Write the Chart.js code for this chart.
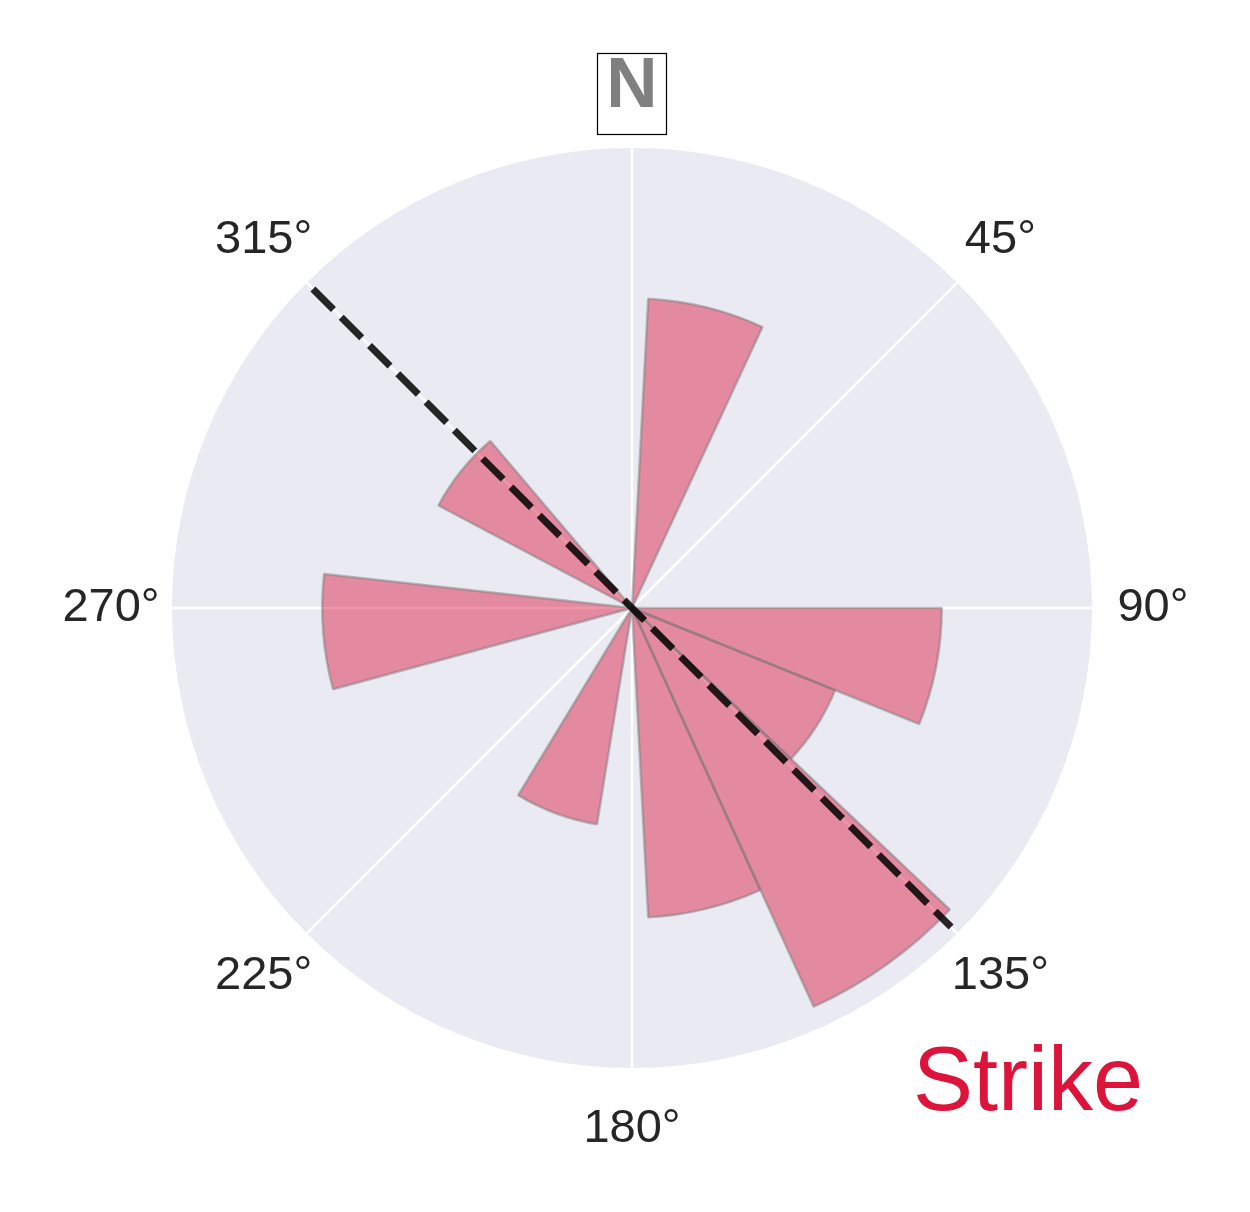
<!DOCTYPE html>
<html>
<head>
<meta charset="utf-8">
<title>Strike rose</title>
<script src="https://cdn.jsdelivr.net/npm/chart.js@4.4.0/dist/chart.umd.min.js"></script>
<style>
  body { margin: 0; background: #fff; }
  #wrap { width: 1250px; height: 1212px; }
</style>
</head>
<body>
<div id="wrap"><canvas id="roseChart" width="1250" height="1212"></canvas></div>
<script>
// bins, degrees clockwise from north
const binStart = [3.0, 90.0, 112.0, 133.5, 155.5, 189.2, 254.8, 297.9];
const binEnd   = [24.9, 112.0, 133.5, 155.5, 177.0, 211.3, 276.3, 319.7];
const binCount = [2, 2, 1, 4, 2, 1, 2, 1];

const angleLabels = ['N', '45°', '90°', '135°', '180°', '225°', '270°', '315°'];
const meanStrike = 135;   // dashed line bearing
const strikeReach = 2.06; // length of dashed line, in r units
const rMax = 2.1;

// turn bins into consecutive polar segments (empty gaps between them)
const segValues = [];
const segAngles = [];
let pos = 0;
for (let i = 0; i < binStart.length; i++) {
    if (binStart[i] > pos) {
        segValues.push(0);
        segAngles.push(binStart[i] - pos);
    }
    segValues.push(Math.sqrt(binCount[i])); // equal-area rose
    segAngles.push(binEnd[i] - binStart[i]);
    pos = binEnd[i];
}
if (pos < 360) {
    segValues.push(0);
    segAngles.push(360 - pos);
}

function pointAt(scale, bearing, dist) {
    const a = (bearing - 90) * Math.PI / 180;
    return { x: scale.xCenter + Math.cos(a) * dist, y: scale.yCenter + Math.sin(a) * dist };
}

const roseExtras = {
    id: 'roseExtras',
    afterDatasetsDraw(chart) {
        const ctx = chart.ctx;
        const r = chart.scales.r;

        // mean strike line
        const reach = r.getDistanceFromCenterForValue(strikeReach);
        const a = pointAt(r, meanStrike + 180, reach);
        const b = pointAt(r, meanStrike, reach);
        ctx.save();
        ctx.strokeStyle = 'rgba(0,0,0,0.85)';
        ctx.lineWidth = 7;
        ctx.setLineDash([29, 11]);
        ctx.beginPath();
        ctx.moveTo(a.x, a.y);
        ctx.lineTo(b.x, b.y);
        ctx.stroke();
        ctx.restore();

        // direction labels
        ctx.save();
        ctx.textAlign = 'center';
        ctx.textBaseline = 'middle';
        const labelDist = r.drawingArea + 61;
        angleLabels.forEach((txt, i) => {
            const p = pointAt(r, i * 360 / angleLabels.length, labelDist);
            if (i === 0) {
                ctx.fillStyle = '#fff';
                ctx.fillRect(p.x - 34.5, p.y - 33.5, 69, 81);
                ctx.strokeStyle = '#000';
                ctx.lineWidth = 1.2;
                ctx.strokeRect(p.x - 34.5, p.y - 33.5, 69, 81);
                ctx.font = 'bold 71px "Liberation Sans", Arial, sans-serif';
                ctx.fillStyle = '#808080';
            } else {
                ctx.font = '47px "Liberation Sans", Arial, sans-serif';
                ctx.fillStyle = '#262626';
            }
            ctx.fillText(txt, p.x, p.y);
        });

        ctx.font = '90px "Liberation Sans", Arial, sans-serif';
        ctx.fillStyle = '#DC143C';
        ctx.textAlign = 'left';
        ctx.textBaseline = 'alphabetic';
        ctx.fillText('Strike', 913, 1110);
        ctx.restore();
    }
};

const ctx = document.getElementById('roseChart').getContext('2d');
new Chart(ctx, {
    type: 'polarArea',
    data: {
        labels: segValues.map(() => ''),
        datasets: [{
            data: segValues,
            angle: c => segAngles[c.dataIndex],
            backgroundColor: segValues.map(v => v > 0 ? 'rgba(220,20,60,0.45)' : 'rgba(0,0,0,0)'),
            borderColor: 'rgba(125,125,125,0.5)',
            borderWidth: segValues.map(v => v > 0 ? 2.5 : 0)
        }]
    },
    options: {
        responsive: false,
        animation: false,
        devicePixelRatio: 1,
        layout: { padding: { left: 172, right: 158, top: 148, bottom: 144 } },
        plugins: {
            legend: { display: false },
            tooltip: { enabled: false }
        },
        scales: {
            r: {
                min: 0,
                max: rMax,
                startAngle: 0,
                labels: angleLabels,
                backgroundColor: '#EAEAF2',
                grid: { display: false },
                angleLines: { display: true, color: '#ffffff', lineWidth: 2.5 },
                ticks: { display: false },
                pointLabels: { display: false }
            }
        }
    },
    plugins: [roseExtras]
});
</script>
</body>
</html>
